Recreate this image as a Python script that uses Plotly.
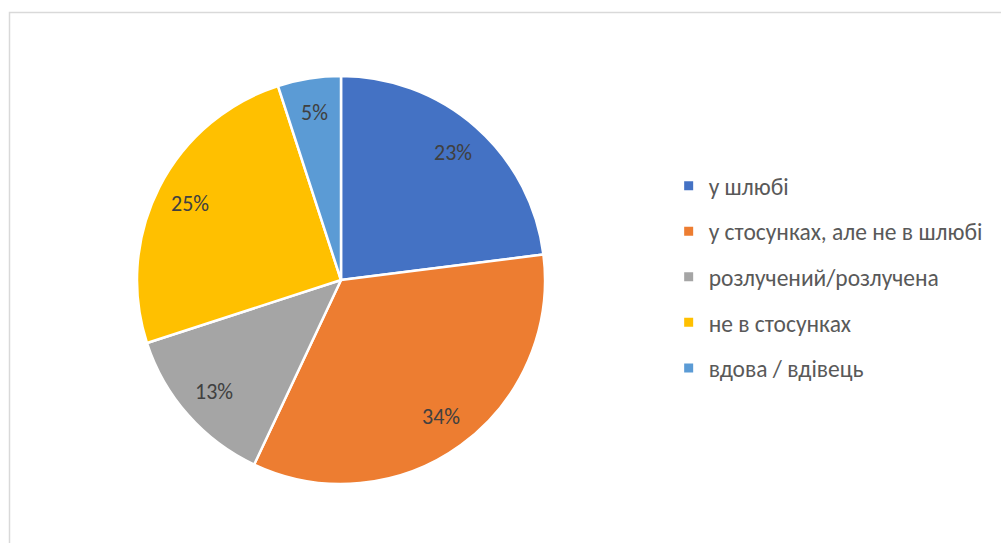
import math
import plotly.graph_objects as go

# Marital status distribution
categories = [
    "у шлюбі",
    "у стосунках, але не в шлюбі",
    "розлучений/розлучена",
    "не в стосунках",
    "вдова / вдівець",
]
shares = [23, 34, 13, 25, 5]
colors = ["#4472C4", "#ED7D31", "#A5A5A5", "#FFC000", "#5B9BD5"]

FONT = "Carlito, Liberation Sans, Arial, sans-serif"
W, H = 1001, 543

# Pie geometry (pixels)
CX, CY, R = 341, 280, 204
LABEL_R = 0.83 * R

fig = go.Figure()

fig.add_trace(go.Pie(
    labels=categories,
    values=shares,
    sort=False,
    direction="clockwise",
    rotation=0,
    marker=dict(colors=colors, line=dict(color="white", width=2.5)),
    textinfo="none",
    hoverinfo="label+percent",
    showlegend=False,
    domain=dict(x=[(CX - R) / W, (CX + R) / W],
                y=[1 - (CY + R) / H, 1 - (CY - R) / H]),
))

# Percentage labels placed along each slice's middle angle
total = sum(shares)
annotations = []
acc = 0
for v in shares:
    mid = (acc + v / 2) / total * 2 * math.pi
    acc += v
    px = CX + LABEL_R * math.sin(mid)
    py = CY - LABEL_R * math.cos(mid)
    annotations.append(dict(
        x=px / W, y=1 - py / H, xref="paper", yref="paper",
        text=f"{round(v / total * 100)}%", showarrow=False,
        font=dict(family=FONT, size=22, color="#404040"),
        xanchor="center", yanchor="middle",
    ))

# Legend entries, one group each so the rows can be spaced apart
for i, (name, col) in enumerate(zip(categories, colors)):
    fig.add_trace(go.Scatter(
        x=[None], y=[None], mode="markers", name=name,
        marker=dict(symbol="square", size=9, color=col),
        legendgroup=f"g{i}", showlegend=True, hoverinfo="skip",
    ))

fig.update_layout(
    width=W, height=H,
    margin=dict(l=0, r=0, t=0, b=0),
    paper_bgcolor="white",
    plot_bgcolor="white",
    xaxis=dict(visible=False),
    yaxis=dict(visible=False),
    font=dict(family=FONT),
    annotations=annotations,
    legend=dict(
        x=0.668, y=0.49, xanchor="left", yanchor="middle",
        font=dict(family=FONT, size=23.5, color="#595959"),
        tracegroupgap=12,
        itemwidth=30,
        bgcolor="rgba(0,0,0,0)",
    ),
    shapes=[dict(
        type="rect", xref="paper", yref="paper",
        x0=9.5 / W, x1=1.2, y0=-0.2, y1=1 - 12.5 / H,
        line=dict(color="#D9D9D9", width=1.5),
        fillcolor="rgba(0,0,0,0)",
        layer="below",
    )],
)

fig.write_html("out.html")
